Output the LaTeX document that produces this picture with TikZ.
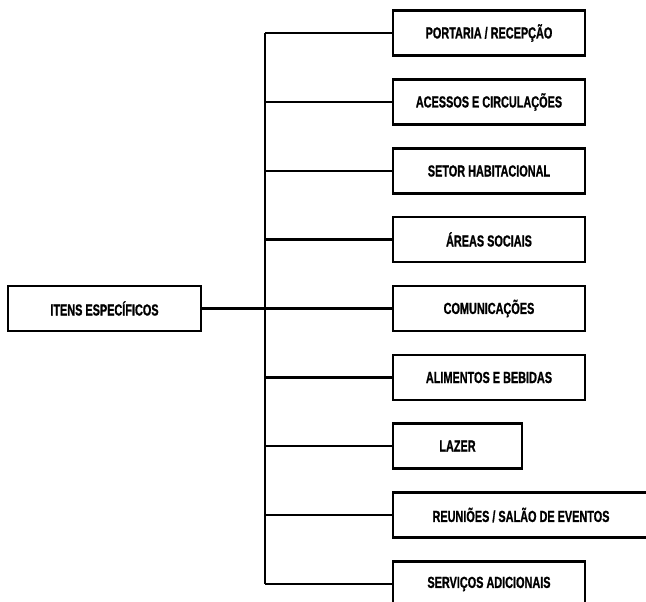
\documentclass[tikz,border=0pt]{standalone}
\usepackage{fontspec}
\setmainfont{Liberation Sans}[FakeStretch=0.68, BoldFeatures={FakeStretch=0.68, FakeBold=1}]
\begin{document}
\begin{tikzpicture}[x=1pt,y=-1pt,
  itembox/.style={draw=black, line width=2.6pt, fill=white, minimum height=45pt,
    inner sep=0pt, font=\fontsize{16}{19}\selectfont\bfseries},
  link/.style={draw=black, line width=2.4pt}]
  \useasboundingbox (0,0) rectangle (646,602);
  \clip (0,0) rectangle (646,602);
  % root item
  \node[itembox, minimum width=193pt] (root) at (104.5,308.5) {ITENS ESPECÍFICOS};
  % branch items
  \node[itembox, minimum width=192pt] (b1) at (489,33)  {PORTARIA / RECEPÇÃO};
  \node[itembox, minimum width=192pt] (b2) at (489,102) {ACESSOS E CIRCULAÇÕES};
  \node[itembox, minimum width=192pt] (b3) at (489,171) {SETOR HABITACIONAL};
  \node[itembox, minimum width=192pt] (b4) at (489,239.5) {ÁREAS SOCIAIS};
  \node[itembox, minimum width=192pt] (b5) at (489,308.5) {COMUNICAÇÕES};
  \node[itembox, minimum width=192pt] (b6) at (489,377.5) {ALIMENTOS E BEBIDAS};
  \node[itembox, minimum width=129pt] (b7) at (457.5,446) {LAZER};
  \node[itembox, minimum width=256pt] (b8) at (521,515) {REUNIÕES / SALÃO DE EVENTOS};
  \node[itembox, minimum width=192pt] (b9) at (489,584) {SERVIÇOS ADICIONAIS};
  % trunk
  \coordinate (trunk) at (265,0);
  \draw[link] (root.east) -- (root.east -| trunk);
  \draw[link] (b1.west -| trunk) -- (b9.west -| trunk);
  \foreach \b in {b1,b2,b3,b4,b5,b6,b7,b8,b9}
    \draw[link] (\b.west -| trunk) -- (\b.west);
\end{tikzpicture}
\end{document}
